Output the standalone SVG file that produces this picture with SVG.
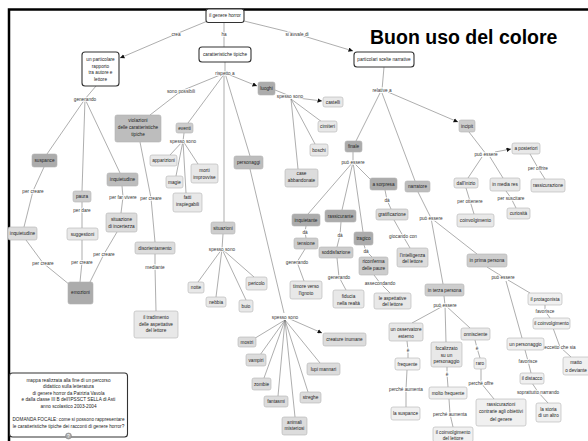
<svg xmlns="http://www.w3.org/2000/svg" width="588" height="441" viewBox="0 0 588 441">
<defs>
<style>
text{font-family:"Liberation Sans",Arial,sans-serif;font-size:4.7px;fill:#222;text-anchor:middle}
.t{font-family:"Liberation Sans",Arial,sans-serif;font-size:19.5px;font-weight:bold;fill:#000;text-anchor:start}
.w{fill:#fff;stroke:#333;stroke-width:1.1}
.g1,.g2,.g3,.g4,.g5,.g6{stroke:#b4b4b4;stroke-width:.6}
.g1{fill:#acacac}.g2{fill:#bdbdbd}.g3{fill:#cdcdcd}.g4{fill:#dcdcdc}.g5{fill:#e8e8e8}.g6{fill:#f0f0f0}
.lk{fill:none;stroke:#777;stroke-width:.6}
.ar{marker-end:url(#ah)}
.lb{fill:#333;stroke:#fff;stroke-width:1.6;paint-order:stroke;stroke-linejoin:round}
</style>
<marker id="ah" viewBox="0 0 6 6" refX="6" refY="3" markerWidth="4.5" markerHeight="4.5" markerUnits="userSpaceOnUse" orient="auto"><path d="M0,0L6,3L0,6z" fill="#111"/></marker>
</defs>
<rect width="588" height="441" fill="#fff"/>
<path d="M9,441V9.5H588" fill="none" stroke="#000" stroke-width="2.5"/>
<text class="t" x="370" y="44">Buon uso del colore</text>

<g id="connectors">
<path class="lk" d="M210,20L176,34"/>
<path class="lk ar" d="M176,34L120,58"/>
<path class="lk" d="M224,22V47"/>
<path class="lk" d="M240,20L297,34"/>
<path class="lk ar" d="M297,34L353,51"/>
<path class="lk" d="M225,62V73"/>
<path class="lk ar" d="M225,73L257,86"/>
<path class="lk" d="M225,73L181,91L150,115"/>
<path class="lk" d="M225,73L188,123"/>
<path class="lk" d="M224,73V222"/>
<path class="lk" d="M225,73L250,156"/>
<path class="lk" d="M96,86L85,99"/>
<path class="lk" d="M85,99L47,154"/>
<path class="lk" d="M85,99L82,191"/>
<path class="lk" d="M85,99L120,173"/>
<path class="lk" d="M44,167L33,191L24,227"/>
<path class="lk" d="M82,202V228"/>
<path class="lk" d="M122,186L123,197L121,213"/>
<path class="lk" d="M140,142L151,198L155,242"/>
<path class="lk" d="M26,240L43,263L70,285"/>
<path class="lk" d="M82,240L82,262L80,282"/>
<path class="lk" d="M117,232L104,254L90,282"/>
<path class="lk" d="M155,254L155,267L156,311"/>
<path class="lk" d="M184,133L183,141"/>
<path class="lk" d="M183,141L170,155M183,141L176,176M183,141L198,164M183,141L186,193"/>
<path class="lk" d="M223,234L222,249"/>
<path class="lk" d="M222,249L198,282M222,249L216,297M222,249L246,300M222,249L254,277"/>
<path class="lk" d="M275,90L290,96"/>
<path class="lk ar" d="M298,98L322,101"/>
<path class="lk" d="M291,99L322,122M291,99L315,144M291,99L298,169"/>
<path class="lk" d="M250,169L284,313"/>
<path class="lk" d="M285,320L252,340M285,320L260,355M285,320L264,378M285,320L278,396M285,320L295,417M285,320L308,392M285,320L320,363"/>
<path class="lk ar" d="M290,319L322,333"/>
<path class="lk" d="M384,67L382,90"/>
<path class="lk ar" d="M388,92L458,122"/>
<path class="lk" d="M380,93L356,141"/>
<path class="lk" d="M382,93L415,181"/>
<path class="lk" d="M353,151V162"/>
<path class="lk" d="M353,162L308,214M353,162L342,210M353,162L363,232M353,162L372,181"/>
<path class="lk" d="M306,226L305,232L306,238"/>
<path class="lk" d="M305,249L297,262L304,281"/>
<path class="lk" d="M341,222L340,235L337,247"/>
<path class="lk" d="M337,258L339,277L346,290"/>
<path class="lk" d="M364,245L366,251L372,257"/>
<path class="lk" d="M374,275L380,283L390,293"/>
<path class="lk" d="M385,190L387,200L391,209"/>
<path class="lk" d="M394,220L403,236L410,248"/>
<path class="lk" d="M418,192L431,218L443,284"/>
<path class="lk" d="M431,218L477,254"/>
<path class="lk" d="M469,132L486,154"/>
<path class="lk ar" d="M495,152L511,149"/>
<path class="lk" d="M482,157L468,178M490,157L503,178"/>
<path class="lk" d="M466,188L470,201L474,214"/>
<path class="lk" d="M506,191L511,198L516,208"/>
<path class="lk" d="M530,154L538,168L545,179"/>
<path class="lk" d="M444,296L445,305"/>
<path class="lk" d="M445,305L412,323M445,305L446,342M445,305L470,328"/>
<path class="lk" d="M407,341L408,350L408,358"/>
<path class="lk" d="M407,370L406,389L406,407"/>
<path class="lk" d="M447,367L447,374L448,387"/>
<path class="lk" d="M449,399L450,414L453,427"/>
<path class="lk" d="M475,340L477,348L480,358"/>
<path class="lk" d="M481,369L481,383L494,399"/>
<path class="lk" d="M487,267L503,277"/>
<path class="lk" d="M508,280L530,293M506,281L522,338"/>
<path class="lk" d="M545,305L545,311L550,318"/>
<path class="lk" d="M553,328L560,347L571,357"/>
<path class="lk" d="M525,350L528,361L531,373"/>
<path class="lk" d="M532,383L538,392L548,403"/>

<text class="lb" x="176" y="35.7">crea</text>
<text class="lb" x="224" y="35.7">ha</text>
<text class="lb" x="297" y="35.7">si avvale di</text>
<text class="lb" x="225" y="74.7">rispetto a</text>
<text class="lb" x="181" y="92.7">sono possibili</text>
<text class="lb" x="85" y="100.7">generando</text>
<text class="lb" x="183" y="142.7">spesso sono</text>
<text class="lb" x="33" y="192.7">per creare</text>
<text class="lb" x="82" y="211.7">per dare</text>
<text class="lb" x="123" y="198.7">per far vivere</text>
<text class="lb" x="151" y="199.7">per creare</text>
<text class="lb" x="43" y="264.7">per creare</text>
<text class="lb" x="82" y="263.7">per creare</text>
<text class="lb" x="104" y="255.7">per creare</text>
<text class="lb" x="155" y="268.7">mediante</text>
<text class="lb" x="222" y="250.7">spesso sono</text>
<text class="lb" x="290" y="97.7">spesso sono</text>
<text class="lb" x="285" y="318.7">spesso sono</text>
<text class="lb" x="382" y="91.7">relative a</text>
<text class="lb" x="353" y="163.7">può essere</text>
<text class="lb" x="305" y="233.7">dà</text>
<text class="lb" x="340" y="236.7">dà</text>
<text class="lb" x="366" y="252.7">dà</text>
<text class="lb" x="387" y="201.7">dà</text>
<text class="lb" x="297" y="263.7">generando</text>
<text class="lb" x="339" y="278.7">generando</text>
<text class="lb" x="380" y="284.7">assecondando</text>
<text class="lb" x="403" y="237.7">giocando con</text>
<text class="lb" x="431" y="219.7">può essere</text>
<text class="lb" x="486" y="155.7">può essere</text>
<text class="lb" x="470" y="202.7">per ottenere</text>
<text class="lb" x="511" y="199.7">per suscitare</text>
<text class="lb" x="538" y="169.7">per offrire</text>
<text class="lb" x="503" y="278.7">può essere</text>
<text class="lb" x="545" y="312.7">favorisce</text>
<text class="lb" x="560" y="348.7">eccetto che sia</text>
<text class="lb" x="528" y="362.7">favorisce</text>
<text class="lb" x="538" y="393.7">soprattutto narrando</text>
<text class="lb" x="445" y="306.7">può essere</text>
<text class="lb" x="408" y="351.7">è</text>
<text class="lb" x="447" y="375.7">è</text>
<text class="lb" x="477" y="349.7">è</text>
<text class="lb" x="406" y="390.7">perché aumenta</text>
<text class="lb" x="450" y="415.7">perché aumenta</text>
<text class="lb" x="481" y="384.7">perché offre</text>
</g>

<g id="n_horror"><rect class="w" x="206" y="9" width="38" height="13.5" rx="2.5"/><text x="225" y="17.4">il genere horror</text></g>
<g id="n_rapporto"><rect class="w" x="82" y="52" width="37" height="34" rx="3"/><text x="100.5" y="61">un particolare<tspan x="100.5" y="67.7">rapporto</tspan><tspan x="100.5" y="74.3">tra autore e</tspan><tspan x="100.5" y="81">lettore</tspan></text></g>
<g id="n_caratt"><rect class="w" x="199" y="47" width="52" height="15" rx="3"/><text x="225" y="56.2">caratteristiche tipiche</text></g>
<g id="n_narrative"><rect class="w" x="354" y="52" width="60" height="15" rx="3"/><text x="384" y="61.2">particolari scelte narrative</text></g>

<g id="n_suspance"><rect class="g1" x="32" y="154" width="25" height="13" rx="2"/><text x="44.5" y="162.2">suspance</text></g>
<g id="n_paura"><rect class="g3" x="73" y="191" width="18" height="11" rx="2"/><text x="82" y="198.2">paura</text></g>
<g id="n_inquietudine1"><rect class="g2" x="107" y="173" width="31" height="13" rx="2"/><text x="122.5" y="181.2">inquietudine</text></g>
<g id="n_inquietudine2"><rect class="g4" x="8" y="227" width="29" height="13" rx="2"/><text x="22.5" y="235.2">inquietudine</text></g>
<g id="n_suggestioni"><rect class="g5" x="67" y="228" width="31" height="12" rx="2"/><text x="82.5" y="235.7">suggestioni</text></g>
<g id="n_incertezza"><rect class="g4" x="106" y="213" width="31" height="19" rx="2"/><text x="121.5" y="221">situazione<tspan x="121.5" y="227.7">di incertezza</tspan></text></g>
<g id="n_emozioni"><rect class="g1" x="68" y="282" width="25" height="22" rx="2"/><text x="80.5" y="293.7">emozioni</text></g>
<g id="n_violazioni"><rect class="g2" x="115" y="115" width="46" height="27" rx="2"/><text x="138" y="121.7">violazioni<tspan x="138" y="129">delle caratteristiche</tspan><tspan x="138" y="135.7">tipiche</tspan></text></g>
<g id="n_disorientamento"><rect class="g4" x="135" y="242" width="40" height="12" rx="2"/><text x="155" y="249.7">disorientamento</text></g>
<g id="n_tradimento"><rect class="g5" x="134" y="311" width="44" height="27" rx="2"/><text x="156" y="319">il tradimento<tspan x="156" y="325.7">delle  aspettative</tspan><tspan x="156" y="332.4">del lettore</tspan></text></g>

<g id="n_eventi"><rect class="g3" x="176" y="123" width="17" height="10" rx="2"/><text x="184.5" y="129.7">eventi</text></g>
<g id="n_apparizioni"><rect class="g5" x="150" y="155" width="27" height="11" rx="2"/><text x="163.5" y="162.2">apparizioni</text></g>
<g id="n_magie"><rect class="g5" x="166" y="176" width="17" height="12" rx="2"/><text x="174.5" y="183.7">magie</text></g>
<g id="n_morti"><rect class="g5" x="191" y="164" width="27" height="19" rx="2"/><text x="204.5" y="172.4">morti<tspan x="204.5" y="179">improvvise</tspan></text></g>
<g id="n_fatti"><rect class="g5" x="173" y="193" width="29" height="19" rx="2"/><text x="187.5" y="199">fatti<tspan x="187.5" y="205.7">inspiegabili</tspan></text></g>
<g id="n_situazioni"><rect class="g3" x="211" y="222" width="24" height="12" rx="2"/><text x="223" y="229.7">situazioni</text></g>
<g id="n_notte"><rect class="g5" x="188" y="282" width="16" height="11" rx="2"/><text x="196" y="289.2">notte</text></g>
<g id="n_nebbia"><rect class="g5" x="206" y="297" width="20" height="10" rx="2"/><text x="216" y="303.7">nebbia</text></g>
<g id="n_buio"><rect class="g5" x="239" y="300" width="14" height="12" rx="2"/><text x="246" y="307.7">buio</text></g>
<g id="n_pericolo"><rect class="g5" x="246" y="277" width="21" height="13" rx="2"/><text x="256.5" y="285.2">pericolo</text></g>
<g id="n_personaggi"><rect class="g2" x="234" y="156" width="29" height="13" rx="2"/><text x="248.5" y="164.2">personaggi</text></g>
<g id="n_luoghi"><rect class="g1" x="258" y="82" width="17" height="13" rx="2"/><text x="266.5" y="90.2">luoghi</text></g>
<g id="n_castelli"><rect class="g5" x="323" y="97" width="20" height="10" rx="2"/><text x="333" y="103.7">castelli</text></g>
<g id="n_cimiteri"><rect class="g5" x="318" y="121" width="19" height="11" rx="2"/><text x="327.5" y="128.2">cimiteri</text></g>
<g id="n_boschi"><rect class="g5" x="310" y="144" width="18" height="12" rx="2"/><text x="319" y="151.7">boschi</text></g>
<g id="n_case"><rect class="g4" x="285" y="169" width="33" height="18" rx="2"/><text x="301.5" y="175">case<tspan x="301.5" y="181.7">abbandonate</tspan></text></g>
<g id="n_mostri"><rect class="g4" x="238" y="337" width="18" height="10" rx="2"/><text x="247" y="343.7">mostri</text></g>
<g id="n_vampiri"><rect class="g4" x="246" y="354" width="20" height="12" rx="2"/><text x="256" y="361.7">vampiri</text></g>
<g id="n_zombie"><rect class="g4" x="252" y="378" width="19" height="12" rx="2"/><text x="261.5" y="385.7">zombie</text></g>
<g id="n_fantasmi"><rect class="g4" x="264" y="396" width="24" height="11" rx="2"/><text x="276" y="403.2">fantasmi</text></g>
<g id="n_animali"><rect class="g4" x="282" y="417" width="25" height="18" rx="2"/><text x="294.5" y="424.4">animali<tspan x="294.5" y="430.4">misteriosi</tspan></text></g>
<g id="n_streghe"><rect class="g4" x="300" y="392" width="21" height="11" rx="2"/><text x="310.5" y="399.2">streghe</text></g>
<g id="n_lupi"><rect class="g4" x="307" y="363" width="33" height="12" rx="2"/><text x="323.5" y="370.7">lupi mannari</text></g>
<g id="n_creature"><rect class="g4" x="323" y="333" width="43" height="13" rx="2"/><text x="344.5" y="341.2">creature inumane</text></g>

<g id="n_finale"><rect class="g1" x="345" y="141" width="17" height="11" rx="2"/><text x="353.5" y="148.2">finale</text></g>
<g id="n_inquietante"><rect class="g1" x="292" y="214" width="28" height="12" rx="2"/><text x="306" y="221.7">inquietante</text></g>
<g id="n_rassicurante"><rect class="g1" x="325" y="210" width="31" height="12" rx="2"/><text x="340.5" y="217.7">rassicurante</text></g>
<g id="n_tragico"><rect class="g1" x="354" y="232" width="19" height="13" rx="2"/><text x="363.5" y="240.2">tragico</text></g>
<g id="n_sorpresa"><rect class="g1" x="370" y="178" width="27" height="12" rx="2"/><text x="383.5" y="185.7">a sorpresa</text></g>
<g id="n_tensione"><rect class="g3" x="294" y="238" width="24" height="11" rx="2"/><text x="306" y="245.2">tensione</text></g>
<g id="n_soddisfazione"><rect class="g3" x="319" y="247" width="34" height="11" rx="2"/><text x="336" y="254.2">soddisfazione</text></g>
<g id="n_riconferma"><rect class="g3" x="359" y="257" width="29" height="18" rx="2"/><text x="373.5" y="263.4">riconferma<tspan x="373.5" y="270">delle paure</tspan></text></g>
<g id="n_gratificazione"><rect class="g4" x="376" y="209" width="32" height="11" rx="2"/><text x="392" y="216.2">gratificazione</text></g>
<g id="n_timore"><rect class="g5" x="290" y="281" width="32" height="18" rx="2"/><text x="306" y="288.4">timore verso<tspan x="306" y="295">l'ignoto</tspan></text></g>
<g id="n_fiducia"><rect class="g5" x="333" y="290" width="31" height="18" rx="2"/><text x="348.5" y="298.4">fiducia<tspan x="348.5" y="305">nella realtà</tspan></text></g>
<g id="n_aspettative"><rect class="g5" x="374" y="293" width="37" height="16" rx="2"/><text x="392.5" y="299.6">le aspettative<tspan x="392.5" y="306.4">del lettore</tspan></text></g>
<g id="n_intelligenza"><rect class="g4" x="397" y="248" width="31" height="19" rx="2"/><text x="412.5" y="256.7">l'intelligenza<tspan x="412.5" y="263.4">del lettore</tspan></text></g>

<g id="n_narratore"><rect class="g2" x="405" y="181" width="25" height="11" rx="2"/><text x="417.5" y="188.2">narratore</text></g>
<g id="n_terza"><rect class="g3" x="425" y="284" width="39" height="12" rx="2"/><text x="444.5" y="291.7">in terza persona</text></g>
<g id="n_prima"><rect class="g3" x="467" y="254" width="40" height="13" rx="2"/><text x="487" y="262.2">in prima persona</text></g>
<g id="n_incipit"><rect class="g3" x="459" y="120" width="16" height="12" rx="2"/><text x="467" y="127.7">incipit</text></g>
<g id="n_posteriori"><rect class="g5" x="512" y="143" width="28" height="11" rx="2"/><text x="526" y="150.2">a posteriori</text></g>
<g id="n_inizio"><rect class="g5" x="454" y="178" width="24" height="10" rx="2"/><text x="466" y="184.7">dall'inizio</text></g>
<g id="n_mediares"><rect class="g5" x="490" y="178" width="30" height="13" rx="2"/><text x="505" y="186.2">in media res</text></g>
<g id="n_coinvolgimento"><rect class="g5" x="457" y="214" width="37" height="13" rx="2"/><text x="475.5" y="222.2">coinvolgimento</text></g>
<g id="n_curiosita"><rect class="g5" x="507" y="208" width="23" height="11" rx="2"/><text x="518.5" y="215.2">curiosità</text></g>
<g id="n_rassicurazione"><rect class="g5" x="531" y="179" width="34" height="13" rx="2"/><text x="548" y="187.2">rassicurazione</text></g>

<g id="n_osservatore"><rect class="g5" x="389" y="323" width="34" height="18" rx="2"/><text x="406" y="331">un osservatore<tspan x="406" y="337.7">esterno</tspan></text></g>
<g id="n_frequente"><rect class="g6" x="395" y="358" width="25" height="12" rx="2"/><text x="407.5" y="365.7">frequente</text></g>
<g id="n_lasuspance"><rect class="g6" x="391" y="407" width="29" height="13" rx="2"/><text x="405.5" y="415.2">la suspance</text></g>
<g id="n_focalizzato"><rect class="g5" x="431" y="342" width="31" height="25" rx="2"/><text x="446.5" y="350">focalizzato<tspan x="446.5" y="356.7">su un</tspan><tspan x="446.5" y="363.4">personaggio</tspan></text></g>
<g id="n_moltofrequente"><rect class="g6" x="429" y="387" width="38" height="12" rx="2"/><text x="448" y="394.7">molto frequente</text></g>
<g id="n_coinvlettore"><rect class="g6" x="433" y="427" width="40" height="15" rx="2"/><text x="453" y="433.6">il coinvolgimento<tspan x="453" y="439.6">del lettore</tspan></text></g>
<g id="n_onnisciente"><rect class="g5" x="461" y="328" width="29" height="12" rx="2"/><text x="475.5" y="335.7">onnisciente</text></g>
<g id="n_raro"><rect class="g6" x="474" y="358" width="12" height="11" rx="2"/><text x="480" y="365.2">raro</text></g>
<g id="n_rassicurazioni"><rect class="g6" x="476" y="399" width="50" height="27" rx="2"/><text x="501" y="406">rassicurazioni<tspan x="501" y="413.4">contrarie agli obiettivi</tspan><tspan x="501" y="420.7">del genere</tspan></text></g>
<g id="n_protagonista"><rect class="g6" x="528" y="293" width="34" height="12" rx="2"/><text x="545" y="300.7">il protagonista</text></g>
<g id="n_coinvolgimento2"><rect class="g6" x="533" y="318" width="37" height="11" rx="2"/><text x="551.5" y="325.2">il coinvolgimento</text></g>
<g id="n_matto"><rect class="g6" x="563" y="357" width="28" height="18" rx="2"/><text x="576" y="364.4">matto<tspan x="576" y="371.7">o deviante</tspan></text></g>
<g id="n_personaggio"><rect class="g6" x="507" y="338" width="37" height="12" rx="2"/><text x="525.5" y="345.7">un personaggio</text></g>
<g id="n_distacco"><rect class="g6" x="520" y="373" width="24" height="11" rx="2"/><text x="532" y="380.2">il distacco</text></g>
<g id="n_storia"><rect class="g6" x="536" y="403" width="25" height="19" rx="2"/><text x="548.5" y="410.7">la storia<tspan x="548.5" y="417.4">di un altro</tspan></text></g>

<g id="n_info"><rect class="w" x="9.5" y="373" width="118" height="64" rx="3"/><text x="68.5" y="381.7">mappa realizzata alla fine di un percorso<tspan x="68.5" y="388.4">didattico sulla letteratura</tspan><tspan x="68.5" y="395">di genere horror da Patrizia Vavola</tspan><tspan x="68.5" y="401">e dalla classe III B dell'IPSSCT SELLA di Asti</tspan><tspan x="68.5" y="408.4">anno scolastico 2003-2004</tspan><tspan x="68.5" y="421">DOMANDA FOCALE: come si possono rappresentare</tspan><tspan x="68.5" y="427.7">le caratteristiche tipiche dei racconti di genere horror?</tspan></text>
<circle cx="68.5" cy="436" r="3" fill="#aaa" stroke="#777" stroke-width=".5"/><text x="68.5" y="437.8" style="fill:#fff;font-size:5px">?</text></g>
</svg>
